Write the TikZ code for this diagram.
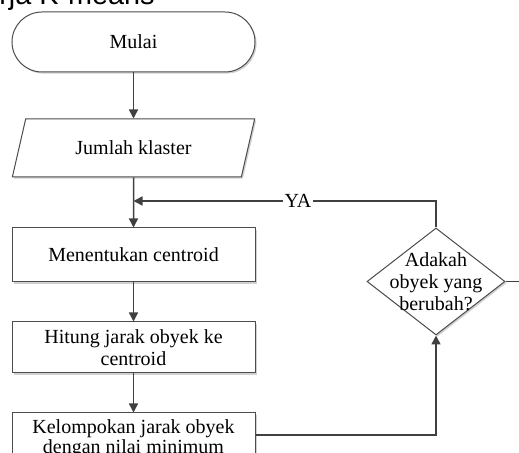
\documentclass[tikz,border=0pt]{standalone}
\usepackage{fontspec}
\setmainfont{Liberation Serif}
\newfontfamily\titlefont{Liberation Sans}
\usetikzlibrary{shapes.geometric,arrows.meta,shadows}
\begin{document}
\begin{tikzpicture}[x=0.5pt,y=-0.5pt,
  shape base/.style={draw=black!70, line width=0.5pt, fill=white, align=center,
    font=\fontsize{10}{11}\selectfont, inner sep=0pt,
    drop shadow={shadow xshift=0.8pt, shadow yshift=-0.8pt, fill=black!18, opacity=1}},
  terminal/.style={shape base, rectangle, rounded corners=15pt, minimum width=121.5pt, minimum height=30pt},
  iobox/.style={shape base, trapezium, trapezium left angle=63, trapezium right angle=117,
    trapezium stretches=true, minimum width=121.5pt, minimum height=29pt},
  procbox/.style={shape base, rectangle, minimum width=121.5pt},
  decision/.style={shape base, diamond, minimum width=69pt, minimum height=53.5pt},
  conn/.style={draw=black!75, line width=0.75pt, -{Triangle[length=4.5pt,width=4.5pt]}},
  plain/.style={draw=black!75, line width=0.75pt}
]
\useasboundingbox (0,0) rectangle (519,453);
\clip (0,0) rectangle (519,453);

\node[anchor=base west, inner sep=0pt, font=\titlefont\fontsize{14.4}{17}\selectfont] (title) at (-1,5) {rja K-means};

\node[terminal] (mulai) at (133.5,42) {Mulai};
\node[iobox] (jumlah) at (133.5,148) {Jumlah klaster};
\node[procbox, minimum height=27pt] (menentukan) at (133.5,255) {Menentukan centroid};
\node[procbox, minimum height=25.5pt] (hitung) at (133.5,347.5) {Hitung jarak obyek ke\\centroid};
\node[procbox, minimum height=26pt, font=\fontsize{10}{10}\selectfont] (kelompok) at (133.5,439) {Kelompokan jarak obyek\\dengan nilai minimum};
\node[decision] (dec) at (436,281.5) {};
\node[align=center, inner sep=0pt, font=\fontsize{10}{11}\selectfont] (dectext) at (dec) {Adakah\\obyek yang\\berubah?};

\coordinate (join) at (133.5,201);
\coordinate (out) at (540,281.5);

\draw[conn] (mulai) -- (jumlah);
\draw[conn] (jumlah) -- (menentukan);
\draw[conn] (menentukan) -- (hitung);
\draw[conn] (hitung) -- (kelompok);
\draw[conn] ([yshift=2pt]kelompok.east) -| (dec.south);
\draw[conn] (dec.north) |- node[pos=0.728, fill=white, inner sep=1pt, font=\fontsize{10}{11}\selectfont] (ya) {YA} (join);
\draw[plain] (dec.east) -- (out);
\end{tikzpicture}
\end{document}
